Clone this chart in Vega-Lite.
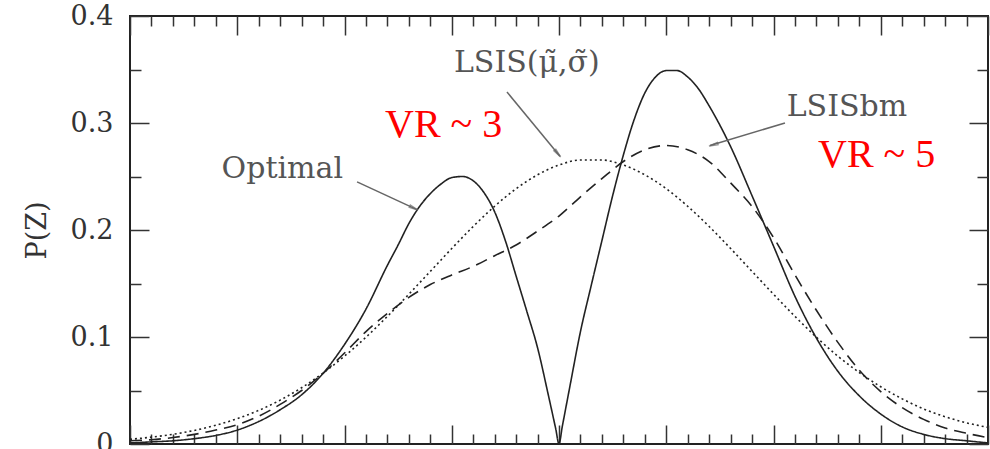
{
  "$schema": "https://vega.github.io/schema/vega-lite/v6.json",
  "width": 858,
  "height": 428,
  "autosize": "none",
  "padding": {"left": 130, "top": 16, "right": 2, "bottom": 5},
  "background": "white",
  "config": {
    "view": {"stroke": "#222", "strokeWidth": 2},
    "axis": {
      "domain": false, "grid": false, "tickColor": "#333", "tickWidth": 1.5,
      "labelFont": "DejaVu Serif", "labelFontSize": 27, "labelColor": "#333",
      "titleFont": "DejaVu Serif", "titleFontSize": 27, "titleFontWeight": "normal", "titleColor": "#333"
    }
  },
  "datasets": {
    "curves": [
      {"z": -4.0, "p": 0.001, "series": "Optimal"},
      {"z": -3.8, "p": 0.002, "series": "Optimal"},
      {"z": -3.6, "p": 0.003, "series": "Optimal"},
      {"z": -3.4, "p": 0.005, "series": "Optimal"},
      {"z": -3.2, "p": 0.008, "series": "Optimal"},
      {"z": -3.0, "p": 0.013, "series": "Optimal"},
      {"z": -2.8, "p": 0.021, "series": "Optimal"},
      {"z": -2.6, "p": 0.032, "series": "Optimal"},
      {"z": -2.4, "p": 0.046, "series": "Optimal"},
      {"z": -2.2, "p": 0.066, "series": "Optimal"},
      {"z": -2.0, "p": 0.093, "series": "Optimal"},
      {"z": -1.8, "p": 0.126, "series": "Optimal"},
      {"z": -1.6, "p": 0.167, "series": "Optimal"},
      {"z": -1.5, "p": 0.186, "series": "Optimal"},
      {"z": -1.4, "p": 0.206, "series": "Optimal"},
      {"z": -1.3, "p": 0.222, "series": "Optimal"},
      {"z": -1.2, "p": 0.234, "series": "Optimal"},
      {"z": -1.1, "p": 0.243, "series": "Optimal"},
      {"z": -1.0, "p": 0.249, "series": "Optimal"},
      {"z": -0.9, "p": 0.25, "series": "Optimal"},
      {"z": -0.8, "p": 0.246, "series": "Optimal"},
      {"z": -0.7, "p": 0.235, "series": "Optimal"},
      {"z": -0.6, "p": 0.217, "series": "Optimal"},
      {"z": -0.5, "p": 0.19, "series": "Optimal"},
      {"z": -0.4, "p": 0.157, "series": "Optimal"},
      {"z": -0.3, "p": 0.124, "series": "Optimal"},
      {"z": -0.2, "p": 0.09, "series": "Optimal"},
      {"z": -0.1, "p": 0.046, "series": "Optimal"},
      {"z": -0.03, "p": 0.014, "series": "Optimal"},
      {"z": 0.0, "p": 0.0, "series": "Optimal"},
      {"z": 0.03, "p": 0.016, "series": "Optimal"},
      {"z": 0.1, "p": 0.053, "series": "Optimal"},
      {"z": 0.2, "p": 0.105, "series": "Optimal"},
      {"z": 0.3, "p": 0.148, "series": "Optimal"},
      {"z": 0.4, "p": 0.19, "series": "Optimal"},
      {"z": 0.5, "p": 0.232, "series": "Optimal"},
      {"z": 0.6, "p": 0.27, "series": "Optimal"},
      {"z": 0.7, "p": 0.303, "series": "Optimal"},
      {"z": 0.8, "p": 0.328, "series": "Optimal"},
      {"z": 0.9, "p": 0.343, "series": "Optimal"},
      {"z": 1.0, "p": 0.349, "series": "Optimal"},
      {"z": 1.1, "p": 0.349, "series": "Optimal"},
      {"z": 1.2, "p": 0.343, "series": "Optimal"},
      {"z": 1.3, "p": 0.332, "series": "Optimal"},
      {"z": 1.4, "p": 0.316, "series": "Optimal"},
      {"z": 1.5, "p": 0.298, "series": "Optimal"},
      {"z": 1.6, "p": 0.278, "series": "Optimal"},
      {"z": 1.8, "p": 0.232, "series": "Optimal"},
      {"z": 2.0, "p": 0.185, "series": "Optimal"},
      {"z": 2.2, "p": 0.138, "series": "Optimal"},
      {"z": 2.4, "p": 0.099, "series": "Optimal"},
      {"z": 2.6, "p": 0.068, "series": "Optimal"},
      {"z": 2.8, "p": 0.045, "series": "Optimal"},
      {"z": 3.0, "p": 0.028, "series": "Optimal"},
      {"z": 3.2, "p": 0.016, "series": "Optimal"},
      {"z": 3.4, "p": 0.009, "series": "Optimal"},
      {"z": 3.6, "p": 0.005, "series": "Optimal"},
      {"z": 3.8, "p": 0.003, "series": "Optimal"},
      {"z": 4.0, "p": 0.001, "series": "Optimal"},

      {"z": -4.0, "p": 0.0044, "series": "LSIS"},
      {"z": -3.8, "p": 0.0064, "series": "LSIS"},
      {"z": -3.6, "p": 0.0091, "series": "LSIS"},
      {"z": -3.4, "p": 0.0127, "series": "LSIS"},
      {"z": -3.2, "p": 0.0175, "series": "LSIS"},
      {"z": -3.0, "p": 0.0237, "series": "LSIS"},
      {"z": -2.8, "p": 0.0314, "series": "LSIS"},
      {"z": -2.6, "p": 0.041, "series": "LSIS"},
      {"z": -2.4, "p": 0.0526, "series": "LSIS"},
      {"z": -2.2, "p": 0.0663, "series": "LSIS"},
      {"z": -2.0, "p": 0.0821, "series": "LSIS"},
      {"z": -1.8, "p": 0.0998, "series": "LSIS"},
      {"z": -1.6, "p": 0.1193, "series": "LSIS"},
      {"z": -1.4, "p": 0.14, "series": "LSIS"},
      {"z": -1.2, "p": 0.1613, "series": "LSIS"},
      {"z": -1.0, "p": 0.1827, "series": "LSIS"},
      {"z": -0.8, "p": 0.2033, "series": "LSIS"},
      {"z": -0.6, "p": 0.2222, "series": "LSIS"},
      {"z": -0.4, "p": 0.2386, "series": "LSIS"},
      {"z": -0.2, "p": 0.2516, "series": "LSIS"},
      {"z": 0.0, "p": 0.2607, "series": "LSIS"},
      {"z": 0.2, "p": 0.2654, "series": "LSIS"},
      {"z": 0.4, "p": 0.2654, "series": "LSIS"},
      {"z": 0.6, "p": 0.2607, "series": "LSIS"},
      {"z": 0.8, "p": 0.2516, "series": "LSIS"},
      {"z": 1.0, "p": 0.2386, "series": "LSIS"},
      {"z": 1.2, "p": 0.2222, "series": "LSIS"},
      {"z": 1.4, "p": 0.2033, "series": "LSIS"},
      {"z": 1.6, "p": 0.1827, "series": "LSIS"},
      {"z": 1.8, "p": 0.1613, "series": "LSIS"},
      {"z": 2.0, "p": 0.14, "series": "LSIS"},
      {"z": 2.2, "p": 0.1193, "series": "LSIS"},
      {"z": 2.4, "p": 0.0998, "series": "LSIS"},
      {"z": 2.6, "p": 0.0821, "series": "LSIS"},
      {"z": 2.8, "p": 0.0668, "series": "LSIS"},
      {"z": 3.0, "p": 0.0535, "series": "LSIS"},
      {"z": 3.2, "p": 0.0422, "series": "LSIS"},
      {"z": 3.4, "p": 0.0328, "series": "LSIS"},
      {"z": 3.6, "p": 0.0255, "series": "LSIS"},
      {"z": 3.8, "p": 0.0198, "series": "LSIS"},
      {"z": 4.0, "p": 0.0155, "series": "LSIS"},

      {"z": -4.0, "p": 0.003, "series": "LSISbm"},
      {"z": -3.8, "p": 0.004, "series": "LSISbm"},
      {"z": -3.6, "p": 0.006, "series": "LSISbm"},
      {"z": -3.4, "p": 0.009, "series": "LSISbm"},
      {"z": -3.2, "p": 0.013, "series": "LSISbm"},
      {"z": -3.0, "p": 0.018, "series": "LSISbm"},
      {"z": -2.8, "p": 0.026, "series": "LSISbm"},
      {"z": -2.6, "p": 0.037, "series": "LSISbm"},
      {"z": -2.4, "p": 0.05, "series": "LSISbm"},
      {"z": -2.2, "p": 0.066, "series": "LSISbm"},
      {"z": -2.0, "p": 0.085, "series": "LSISbm"},
      {"z": -1.8, "p": 0.105, "series": "LSISbm"},
      {"z": -1.6, "p": 0.122, "series": "LSISbm"},
      {"z": -1.4, "p": 0.137, "series": "LSISbm"},
      {"z": -1.2, "p": 0.149, "series": "LSISbm"},
      {"z": -1.0, "p": 0.158, "series": "LSISbm"},
      {"z": -0.8, "p": 0.166, "series": "LSISbm"},
      {"z": -0.6, "p": 0.176, "series": "LSISbm"},
      {"z": -0.4, "p": 0.186, "series": "LSISbm"},
      {"z": -0.2, "p": 0.199, "series": "LSISbm"},
      {"z": 0.0, "p": 0.213, "series": "LSISbm"},
      {"z": 0.2, "p": 0.231, "series": "LSISbm"},
      {"z": 0.4, "p": 0.248, "series": "LSISbm"},
      {"z": 0.6, "p": 0.264, "series": "LSISbm"},
      {"z": 0.8, "p": 0.275, "series": "LSISbm"},
      {"z": 1.0, "p": 0.279, "series": "LSISbm"},
      {"z": 1.2, "p": 0.275, "series": "LSISbm"},
      {"z": 1.4, "p": 0.264, "series": "LSISbm"},
      {"z": 1.6, "p": 0.244, "series": "LSISbm"},
      {"z": 1.8, "p": 0.222, "series": "LSISbm"},
      {"z": 2.0, "p": 0.193, "series": "LSISbm"},
      {"z": 2.2, "p": 0.158, "series": "LSISbm"},
      {"z": 2.4, "p": 0.125, "series": "LSISbm"},
      {"z": 2.6, "p": 0.095, "series": "LSISbm"},
      {"z": 2.8, "p": 0.069, "series": "LSISbm"},
      {"z": 3.0, "p": 0.049, "series": "LSISbm"},
      {"z": 3.2, "p": 0.034, "series": "LSISbm"},
      {"z": 3.4, "p": 0.023, "series": "LSISbm"},
      {"z": 3.6, "p": 0.015, "series": "LSISbm"},
      {"z": 3.8, "p": 0.01, "series": "LSISbm"},
      {"z": 4.0, "p": 0.006, "series": "LSISbm"}
    ],
    "notes": [
      {"label": "LSIS(μ̃,σ̃)", "z": -0.30, "p": 0.348},
      {"label": "LSISbm", "z": 2.685, "p": 0.307},
      {"label": "Optimal", "z": -2.58, "p": 0.249}
    ],
    "vr": [
      {"label": "VR ~ 3", "z": -1.622, "p": 0.287},
      {"label": "VR ~ 5", "z": 2.415, "p": 0.259}
    ],
    "arrows": [
      {"name": "LSIS", "z": -0.485, "p": 0.329, "z2": 0.009, "p2": 0.269},
      {"name": "Optimal", "z": -1.883, "p": 0.245, "z2": -1.324, "p2": 0.219},
      {"name": "LSISbm", "z": 2.107, "p": 0.300, "z2": 1.408, "p2": 0.279}
    ],
    "heads": [
      {"name": "LSIS", "z": -0.021, "p": 0.2726},
      {"name": "Optimal", "z": -1.366, "p": 0.221},
      {"name": "LSISbm", "z": 1.453, "p": 0.280}
    ]
  },
  "resolve": {"axis": {"x": "independent", "y": "independent"}},
  "layer": [
    {
      "data": {"name": "curves"},
      "mark": {"type": "line", "interpolate": "monotone", "color": "#222", "strokeWidth": 1.6},
      "encoding": {
        "x": {"field": "z", "type": "quantitative",
              "scale": {"domain": [-4, 4], "nice": false, "zero": false},
              "axis": {"orient": "bottom", "values": [-4, -3, -2, -1, 0, 1, 2, 3, 4], "labels": false, "tickSize": -19, "title": null}},
        "y": {"field": "p", "type": "quantitative",
              "scale": {"domain": [0, 0.4], "nice": false, "zero": false},
              "axis": {"orient": "left", "values": [0, 0.1, 0.2, 0.3, 0.4], "format": ".1~f", "tickSize": -19, "labelPadding": 36, "title": "P(Z)", "titlePadding": 19}},
        "detail": {"field": "series"},
        "strokeDash": {"field": "series", "type": "nominal",
                       "scale": {"domain": ["Optimal", "LSIS", "LSISbm"], "range": [[1, 0], [2, 3], [12, 7]]},
                       "legend": null}
      }
    },
    {
      "data": {"name": "curves"},
      "mark": {"type": "point", "opacity": 0},
      "encoding": {
        "x": {"field": "z", "type": "quantitative",
              "scale": {"domain": [-4, 4], "nice": false, "zero": false},
              "axis": {"orient": "bottom", "values": [-3.8, -3.6, -3.4, -3.2, -2.8, -2.6, -2.4, -2.2, -1.8, -1.6, -1.4, -1.2, -0.8, -0.6, -0.4, -0.2, 0.2, 0.4, 0.6, 0.8, 1.2, 1.4, 1.6, 1.8, 2.2, 2.4, 2.6, 2.8, 3.2, 3.4, 3.6, 3.8], "labels": false, "tickSize": -10, "title": null}},
        "y": {"field": "p", "type": "quantitative",
              "scale": {"domain": [0, 0.4], "nice": false, "zero": false},
              "axis": {"orient": "left", "values": [0.05, 0.15, 0.25, 0.35], "labels": false, "tickSize": -11, "title": null}}
      }
    },
    {
      "data": {"name": "curves"},
      "mark": {"type": "point", "opacity": 0},
      "encoding": {
        "x": {"field": "z", "type": "quantitative",
              "scale": {"domain": [-4, 4], "nice": false, "zero": false},
              "axis": {"orient": "top", "values": [-4, -3, -2, -1, 0, 1, 2, 3, 4], "labels": false, "tickSize": -19, "title": null}},
        "y": {"field": "p", "type": "quantitative",
              "scale": {"domain": [0, 0.4], "nice": false, "zero": false},
              "axis": {"orient": "right", "values": [0, 0.1, 0.2, 0.3, 0.4], "labels": false, "tickSize": -19, "title": null}}
      }
    },
    {
      "data": {"name": "curves"},
      "mark": {"type": "point", "opacity": 0},
      "encoding": {
        "x": {"field": "z", "type": "quantitative",
              "scale": {"domain": [-4, 4], "nice": false, "zero": false},
              "axis": {"orient": "top", "values": [-3.8, -3.6, -3.4, -3.2, -2.8, -2.6, -2.4, -2.2, -1.8, -1.6, -1.4, -1.2, -0.8, -0.6, -0.4, -0.2, 0.2, 0.4, 0.6, 0.8, 1.2, 1.4, 1.6, 1.8, 2.2, 2.4, 2.6, 2.8, 3.2, 3.4, 3.6, 3.8], "labels": false, "tickSize": -10, "title": null}},
        "y": {"field": "p", "type": "quantitative",
              "scale": {"domain": [0, 0.4], "nice": false, "zero": false},
              "axis": {"orient": "right", "values": [0.05, 0.15, 0.25, 0.35], "labels": false, "tickSize": -11, "title": null}}
      }
    },
    {
      "data": {"name": "arrows"},
      "mark": {"type": "rule", "color": "#666", "strokeWidth": 1.5},
      "encoding": {
        "x": {"field": "z", "type": "quantitative", "axis": null},
        "y": {"field": "p", "type": "quantitative", "axis": null},
        "x2": {"field": "z2"},
        "y2": {"field": "p2"}
      }
    },
    {
      "data": {"name": "heads"},
      "transform": [{"filter": "datum.name === 'LSIS'"}],
      "mark": {"type": "point", "shape": "wedge", "angle": 140, "size": 110, "filled": false, "color": "#666", "strokeWidth": 1.3},
      "encoding": {
        "x": {"field": "z", "type": "quantitative", "axis": null},
        "y": {"field": "p", "type": "quantitative", "axis": null}
      }
    },
    {
      "data": {"name": "heads"},
      "transform": [{"filter": "datum.name === 'Optimal'"}],
      "mark": {"type": "point", "shape": "wedge", "angle": 115, "size": 110, "filled": false, "color": "#666", "strokeWidth": 1.3},
      "encoding": {
        "x": {"field": "z", "type": "quantitative", "axis": null},
        "y": {"field": "p", "type": "quantitative", "axis": null}
      }
    },
    {
      "data": {"name": "heads"},
      "transform": [{"filter": "datum.name === 'LSISbm'"}],
      "mark": {"type": "point", "shape": "wedge", "angle": 254, "size": 110, "filled": false, "color": "#666", "strokeWidth": 1.3},
      "encoding": {
        "x": {"field": "z", "type": "quantitative", "axis": null},
        "y": {"field": "p", "type": "quantitative", "axis": null}
      }
    },
    {
      "data": {"name": "notes"},
      "mark": {"type": "text", "font": "DejaVu Serif", "fontSize": 30, "color": "#555", "align": "center", "baseline": "alphabetic"},
      "encoding": {
        "x": {"field": "z", "type": "quantitative", "axis": null},
        "y": {"field": "p", "type": "quantitative", "axis": null},
        "text": {"field": "label"}
      }
    },
    {
      "data": {"name": "vr"},
      "mark": {"type": "text", "font": "Liberation Serif", "fontSize": 40, "color": "#ff0000", "align": "left", "baseline": "alphabetic"},
      "encoding": {
        "x": {"field": "z", "type": "quantitative", "axis": null},
        "y": {"field": "p", "type": "quantitative", "axis": null},
        "text": {"field": "label"}
      }
    }
  ]
}
